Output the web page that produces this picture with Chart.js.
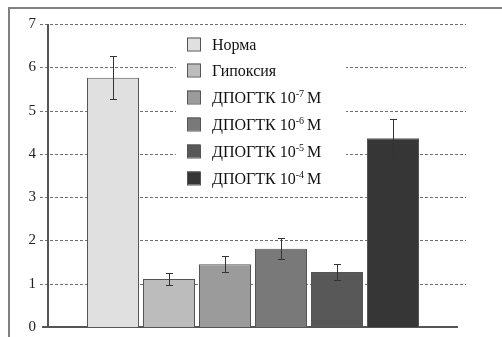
<!DOCTYPE html>
<html>
<head>
<meta charset="utf-8">
<script src="https://cdn.jsdelivr.net/npm/chart.js@4/dist/chart.umd.min.js"></script>
<style>
  body { margin: 0; background: #fff; }
  #wrap { position: relative; width: 502px; height: 337px; }
  #frame { position: absolute; left: 8px; top: 7px; width: 500px; height: 340px;
           border-top: 2px solid #808080; border-left: 2px solid #808080; pointer-events: none; }
</style>
</head>
<body>
<div id="wrap">
  <canvas id="chart" width="502" height="337"></canvas>
  <div id="frame"></div>
</div>
<script>
const names = ["Норма", "Гипоксия", "ДПОГТК", "ДПОГТК", "ДПОГТК", "ДПОГТК"];
const powers = [null, null, "-7", "-6", "-5", "-4"];
const values = [5.76, 1.11, 1.45, 1.81, 1.27, 4.36];
const errors = [0.50, 0.13, 0.18, 0.25, 0.18, 0.45];
const colors = ["#e0e0e0", "#bcbcbc", "#9b9b9b", "#797979", "#585858", "#363636"];
const yTicks = [0, 1, 2, 3, 4, 5, 6, 7];

const FONT = "'Liberation Serif', 'Times New Roman', serif";

// dashed grid runs a bit past the plot on both sides, axis line at 0 is solid
const gridLines = {
  id: "gridLines",
  beforeDatasetsDraw(chart) {
    const { ctx, scales: { y }, chartArea } = chart;
    ctx.save();
    ctx.lineWidth = 1;
    ctx.strokeStyle = "#707070";
    ctx.setLineDash([3, 2]);
    yTicks.forEach((v) => {
      if (v === 0) return;
      const py = Math.round(y.getPixelForValue(v)) + 0.5;
      ctx.beginPath();
      ctx.moveTo(40, py); ctx.lineTo(466, py);
      ctx.stroke();
    });
    ctx.setLineDash([]);
    ctx.strokeStyle = "#555";
    ctx.lineWidth = 2;
    const p0 = Math.round(y.getPixelForValue(0));
    ctx.beginPath();
    ctx.moveTo(42, p0); ctx.lineTo(chartArea.right, p0);
    ctx.stroke();
    ctx.beginPath();
    ctx.moveTo(chartArea.left, chartArea.top); ctx.lineTo(chartArea.left, p0);
    ctx.stroke();
    ctx.restore();
  }
};

const errorBars = {
  id: "errorBars",
  afterDatasetsDraw(chart) {
    const { ctx, scales: { y } } = chart;
    ctx.save();
    ctx.strokeStyle = "#333";
    ctx.lineWidth = 1;
    chart.data.datasets.forEach((ds, i) => {
      const bar = chart.getDatasetMeta(i).data[0];
      const x = Math.round(bar.x) + 0.5;
      const top = Math.round(y.getPixelForValue(values[i] + errors[i])) + 0.5;
      const bot = Math.round(y.getPixelForValue(values[i] - errors[i])) + 0.5;
      ctx.beginPath();
      ctx.moveTo(x, top); ctx.lineTo(x, bot);
      ctx.moveTo(x - 3.5, top); ctx.lineTo(x + 3.5, top);
      ctx.moveTo(x - 3.5, bot); ctx.lineTo(x + 3.5, bot);
      ctx.stroke();
    });
    ctx.restore();
  }
};

// legend sits inside the plot on a white patch, labels carry superscripts
const insideLegend = {
  id: "insideLegend",
  afterDatasetsDraw(chart) {
    const ctx = chart.ctx;
    ctx.save();
    ctx.fillStyle = "#fff";
    ctx.fillRect(176, 30, 170, 158);
    const x0 = 187, y0 = 43.5, step = 26.9;
    chart.data.datasets.forEach((ds, i) => {
      const cy = Math.round(y0 + i * step);
      ctx.fillStyle = ds.backgroundColor;
      ctx.strokeStyle = "#555";
      ctx.lineWidth = 1;
      ctx.fillRect(x0, cy - 6.5, 13, 13);
      ctx.strokeRect(x0 + 0.5, cy - 6, 13, 13);
      ctx.fillStyle = "#111";
      ctx.textBaseline = "alphabetic";
      ctx.font = "16px " + FONT;
      let tx = 212;
      const base = cy + 5.5;
      if (powers[i] === null) {
        ctx.fillText(names[i], tx, base);
      } else {
        const head = names[i] + " 10";
        ctx.fillText(head, tx, base);
        tx += ctx.measureText(head).width;
        ctx.font = "10px " + FONT;
        ctx.fillText(powers[i], tx, base - 6);
        tx += ctx.measureText(powers[i]).width + 3;
        ctx.font = "16px " + FONT;
        ctx.fillText("M", tx, base);
      }
    });
    ctx.restore();
  }
};

new Chart(document.getElementById("chart"), {
  type: "bar",
  data: {
    labels: [""],
    datasets: names.map((n, i) => ({
      label: powers[i] ? n + " 10" + powers[i] + " M" : n,
      data: [values[i]],
      backgroundColor: colors[i],
      borderColor: "#555",
      borderWidth: 1,
      barPercentage: 0.9286,
      categoryPercentage: 0.8195,
    })),
  },
  options: {
    responsive: false,
    animation: false,
    layout: { padding: { left: 0, right: 44, top: 24, bottom: 10 } },
    plugins: { legend: { display: false }, tooltip: { enabled: false } },
    scales: {
      x: {
        grid: { display: false },
        ticks: { display: false },
        border: { display: false },
        afterFit: (s) => { s.height = 0; s.paddingLeft = 0; s.paddingRight = 0; },
      },
      y: {
        min: 0,
        max: 7,
        afterBuildTicks: (s) => { s.ticks = yTicks.map((v) => ({ value: v })); },
        afterFit: (s) => { s.width = 48; s.paddingTop = 0; s.paddingBottom = 0; },
        ticks: { color: "#222", padding: 4, font: { family: FONT, size: 15 } },
        grid: { display: false },
        border: { display: false },
      },
    },
  },
  plugins: [gridLines, errorBars, insideLegend],
});
</script>
</body>
</html>
